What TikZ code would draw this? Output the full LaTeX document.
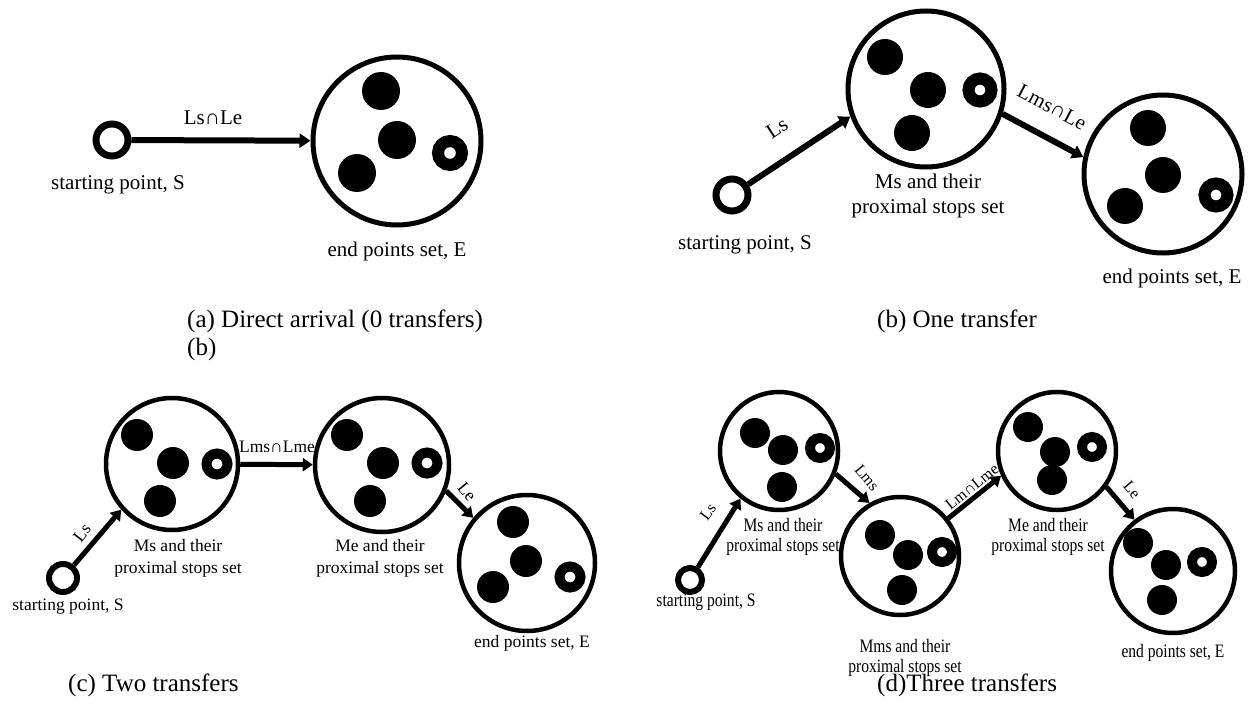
\documentclass[tikz,border=0pt]{standalone}
\usepackage{fontspec}
\usepackage{graphicx}
\setmainfont{Liberation Serif}
\usetikzlibrary{arrows.meta}
\newcommand\dlab[1]{\scalebox{0.82}[1]{\begin{tabular}{@{}c@{}}#1\end{tabular}}}
\begin{document}
\begin{tikzpicture}[x=1pt,y=-1pt,
  startc/.style={circle,draw,inner sep=0pt,line width=7pt,minimum size=32pt},
  startcs/.style={circle,draw,inner sep=0pt,line width=6pt,minimum size=#1},
  setc/.style={circle,draw,inner sep=0pt,line width=5pt,minimum size=#1},
  setcs/.style={circle,draw,inner sep=0pt,line width=4.5pt,minimum size=#1},
  dotn/.style={circle,fill,inner sep=0pt,minimum size=#1},
  ringn/.style={circle,draw,inner sep=0pt,line width=#1},
  arr/.style={line width=6pt,-{Triangle[length=11pt,width=14pt]}},
  arrs/.style={line width=5pt,-{Triangle[length=10pt,width=13pt]}},
  lbl/.style={font=\fontsize{21}{25}\selectfont,inner sep=0pt,align=center},
  lblc/.style={font=\fontsize{17.5}{22}\selectfont,inner sep=0pt,align=center},
  lbld/.style={font=\fontsize{19}{20}\selectfont,inner sep=0pt,align=center},
  lbldr/.style={font=\fontsize{16}{18}\selectfont,inner sep=0pt},
  capn/.style={font=\fontsize{25}{28}\selectfont,inner sep=0pt,anchor=west}]
\useasboundingbox (0,0) rectangle (1251,722);

% ---------------- (a)
\node[startc] (aS) at (112,140) {};
\node[setc=168pt] (aE) at (397,141) {};
\node[dotn=38pt] (aE1) at (381,91) {};
\node[dotn=38pt] (aE2) at (397,140) {};
\node[dotn=38pt] (aE3) at (357,173) {};
\node[ringn=12pt,minimum size=24pt] (aE4) at (450,153) {};
\draw[arr] (aS) -- (aE);
\node[lbl] (aL) at (213,118) {Ls∩Le};
\node[lbl] (aSl) at (118,185) {starting point, S};
\node[lbl] (aEl) at (397,251) {end points set, E};
\node[capn] (capa) at (187,321) {(a) Direct arrival (0 transfers)};
\node[capn] (capbb) at (187,349) {(b)};

% ---------------- (b)
\node[startc] (bS) at (732,195) {};
\node[setc=156pt] (bM) at (926,89) {};
\node[dotn=36pt] (bM1) at (885,57) {};
\node[dotn=36pt] (bM2) at (928,90) {};
\node[dotn=36pt] (bM3) at (912,133) {};
\node[ringn=12pt,minimum size=23pt] (bM4) at (980,90) {};
\node[setc=158pt] (bE) at (1163,174) {};
\node[dotn=36pt] (bE1) at (1148,128) {};
\node[dotn=36pt] (bE2) at (1163,175) {};
\node[dotn=36pt] (bE3) at (1125,206) {};
\node[ringn=12pt,minimum size=23pt] (bE4) at (1216,195) {};
\draw[arr] (bS) -- (bM.200);
\draw[arr] (bM.-18) -- (bE.168);
\node[lbl,rotate=33] (bL1) at (777,128) {Ls};
\node[lbl,rotate=-28] (bL2) at (1052,107) {Lms∩Le};
\node[lbl] (bMl) at (928,196) {Ms and their\\proximal stops set};
\node[lbl] (bSl) at (745,245) {starting point, S};
\node[lbl] (bEl) at (1172,278) {end points set, E};
\node[capn] (capb) at (877,321) {(b) One transfer};

% ---------------- (c)
\node[startcs=28pt] (cS) at (63,578) {};
\node[setcs=132pt] (cMs) at (172,464) {};
\node[dotn=32pt] (cMs1) at (137,435) {};
\node[dotn=32pt] (cMs2) at (173,463) {};
\node[dotn=32pt] (cMs3) at (160,501) {};
\node[ringn=10pt,minimum size=21pt] (cMs4) at (217,464) {};
\node[setcs=134pt] (cMe) at (382,465) {};
\node[dotn=32pt] (cMe1) at (347,435) {};
\node[dotn=32pt] (cMe2) at (383,463) {};
\node[dotn=32pt] (cMe3) at (370,501) {};
\node[ringn=10pt,minimum size=21pt] (cMe4) at (427,463) {};
\node[setcs=136pt] (cE) at (527,563) {};
\node[dotn=32pt] (cE1) at (513,522) {};
\node[dotn=32pt] (cE2) at (526,561) {};
\node[dotn=32pt] (cE3) at (493,587) {};
\node[ringn=10pt,minimum size=21pt] (cE4) at (570,577) {};
\draw[arrs] (cS) -- (cMs.222);
\draw[arrs] (cMs) -- (cMe);
\draw[arrs] (cMe.-22) -- (cE.140);
\node[lblc,rotate=52] (cL1) at (82,533) {Ls};
\node[lblc] (cL2) at (277,447) {Lms∩Lme};
\node[lblc,rotate=-50] (cL3) at (467,492) {Le};
\node[lblc] (cMsl) at (178,558) {Ms and their\\proximal stops set};
\node[lblc] (cMel) at (380,558) {Me and their\\proximal stops set};
\node[lblc] (cSl) at (68,607) {starting point, S};
\node[lblc] (cEl) at (532,643) {end points set, E};
\node[capn] (capc) at (68,685) {(c) Two transfers};

% ---------------- (d)
\node[startcs=24pt] (dS) at (690,580) {};
\node[setcs=118pt] (dMs) at (779,451) {};
\node[dotn=30pt] (dMs1) at (755,433) {};
\node[dotn=30pt] (dMs2) at (783,450) {};
\node[dotn=30pt] (dMs3) at (782,487) {};
\node[ringn=10pt,minimum size=20pt] (dMs4) at (820,448) {};
\node[setcs=118pt] (dMm) at (900,556) {};
\node[dotn=30pt] (dMm1) at (880,535) {};
\node[dotn=30pt] (dMm2) at (908,555) {};
\node[dotn=30pt] (dMm3) at (902,590) {};
\node[ringn=10pt,minimum size=20pt] (dMm4) at (942,552) {};
\node[setcs=118pt] (dMe) at (1057,451) {};
\node[dotn=30pt] (dMe1) at (1028,427) {};
\node[dotn=30pt] (dMe2) at (1055,452) {};
\node[dotn=30pt] (dMe3) at (1052,480) {};
\node[ringn=10pt,minimum size=20pt] (dMe4) at (1092,447) {};
\node[setcs=124pt] (dE) at (1173,571) {};
\node[dotn=30pt] (dE1) at (1138,543) {};
\node[dotn=30pt] (dE2) at (1166,565) {};
\node[dotn=30pt] (dE3) at (1162,600) {};
\node[ringn=10pt,minimum size=20pt] (dE4) at (1202,562) {};
\draw[arrs] (dS) -- (dMs.231);
\draw[arrs] (dMs.-22) -- (dMm.120);
\draw[arrs] (dMm.38) -- (dMe.204);
\draw[arrs] (dMe.-36) -- (dE.127);
\node[lbldr,rotate=53] (dL1) at (708,512) {Ls};
\node[lbldr,rotate=-50] (dL2) at (867,478) {Lms};
\node[lbldr,rotate=39] (dL3) at (972,487) {Lm∩Lme};
\node[lbldr,rotate=-50] (dL4) at (1132,490) {Le};
\node[lbld] (dMsl) at (783,537) {\dlab{Ms and their\\proximal stops set}};
\node[lbld] (dMml) at (905,658) {\dlab{Mms and their\\proximal stops set}};
\node[lbld] (dMel) at (1048,537) {\dlab{Me and their\\proximal stops set}};
\node[lbld] (dSl) at (706,602) {\dlab{starting point, S}};
\node[lbld] (dEl) at (1173,653) {\dlab{end points set, E}};
\node[capn] (capd) at (877,685) {(d)Three transfers};
\end{tikzpicture}
\end{document}
